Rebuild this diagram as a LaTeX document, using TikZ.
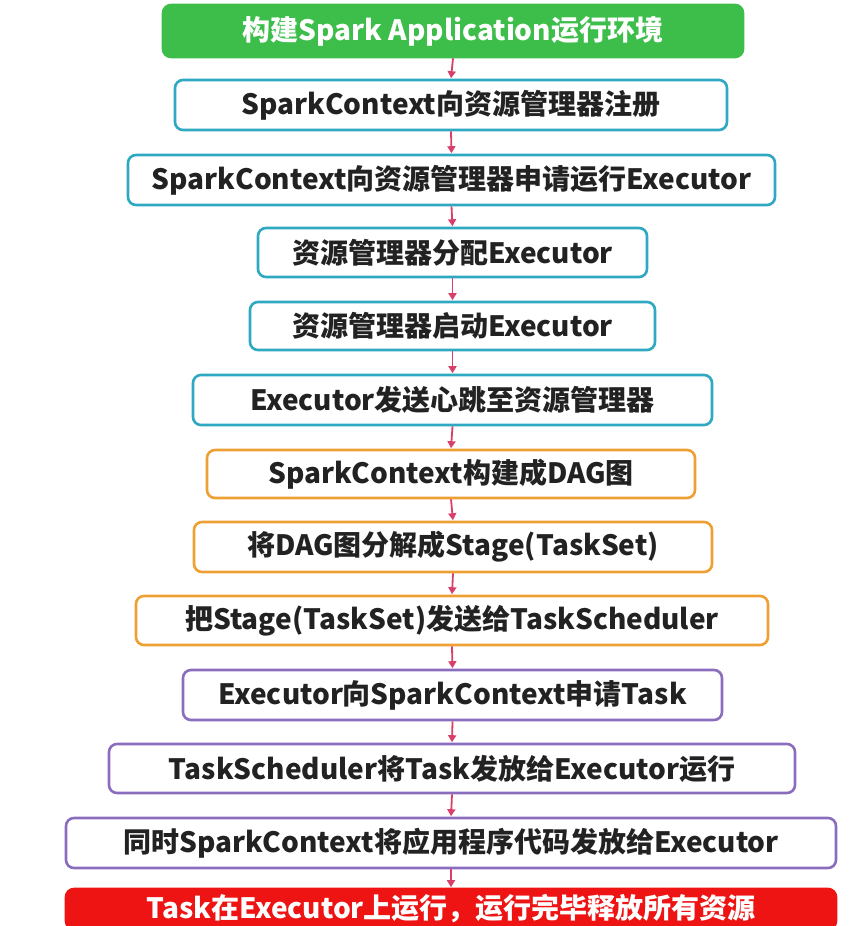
\documentclass[tikz,border=0pt]{standalone}
\usepackage{fontspec}
\newfontfamily\cjk{Noto Sans CJK SC}
\usetikzlibrary{arrows.meta}
\definecolor{gfill}{HTML}{3DBE4B}
\definecolor{cyanB}{HTML}{2FA8C2}
\definecolor{orangeB}{HTML}{EFA034}
\definecolor{purpleB}{HTML}{8B6DBE}
\definecolor{redF}{HTML}{EE1414}
\definecolor{arrC}{HTML}{D8406A}
\definecolor{txt}{HTML}{222222}
\tikzset{
  box/.style={draw, line width=2.6pt, rounded corners=8pt, fill=white, inner sep=0pt,
    font=\cjk\bfseries\fontsize{28}{32}\selectfont, text=txt},
  cbox/.style={box, draw=cyanB},
  obox/.style={box, draw=orangeB},
  pbox/.style={box, draw=purpleB},
  arr/.style={draw=arrC, line width=1.8pt, -{Triangle[length=7pt,width=8pt]}, shorten >=0.5pt}
}
\begin{document}
\begin{tikzpicture}[x=1pt,y=-1pt]
\useasboundingbox (0,0) rectangle (851,926);
\clip (0,0) rectangle (851,926);
\fill[white] (0,0) rectangle (851,926);
\node[box, draw=gfill, fill=gfill, text=white, minimum width=580pt, minimum height=52pt] (n1) at (453,31) {构建Spark Application运行环境};
\node[cbox, minimum width=552pt, minimum height=50pt] (n2) at (451,105) {SparkContext向资源管理器注册};
\node[cbox, minimum width=647pt, minimum height=50pt] (n3) at (451.5,180) {SparkContext向资源管理器申请运行Executor};
\node[cbox, minimum width=389pt, minimum height=49pt] (n4) at (452.5,252.5) {资源管理器分配Executor};
\node[cbox, minimum width=405pt, minimum height=48pt] (n5) at (452.5,326) {资源管理器启动Executor};
\node[cbox, minimum width=519pt, minimum height=50pt] (n6) at (452.5,400) {Executor发送心跳至资源管理器};
\node[obox, minimum width=488pt, minimum height=48pt] (n7) at (451,474) {SparkContext构建成DAG图};
\node[obox, minimum width=518pt, minimum height=50pt] (n8) at (453,547) {将DAG图分解成Stage(TaskSet)};
\node[obox, minimum width=632pt, minimum height=49pt] (n9) at (452,620.5) {把Stage(TaskSet)发送给TaskScheduler};
\node[pbox, minimum width=539pt, minimum height=50pt] (n10) at (452.5,695) {Executor向SparkContext申请Task};
\node[pbox, minimum width=686pt, minimum height=49pt] (n11) at (452,768.5) {TaskScheduler将Task发放给Executor运行};
\node[pbox, minimum width=770pt, minimum height=50pt] (n12) at (451,843) {同时SparkContext将应用程序代码发放给Executor};
\node[box, draw=redF, fill=redF, text=white, minimum width=770pt, minimum height=40pt] (n13) at (451,909) {Task在Executor上运行，运行完毕释放所有资源};
\foreach \a/\b in {n1/n2,n2/n3,n3/n4,n4/n5,n5/n6,n6/n7,n7/n8,n8/n9,n9/n10,n10/n11,n11/n12,n12/n13}
  \draw[arr] (\a.south) -- (\b.north);
\end{tikzpicture}
\end{document}
